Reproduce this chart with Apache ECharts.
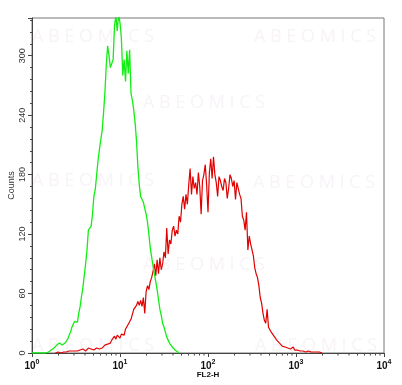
<!DOCTYPE html>
<html>
<head>
<meta charset="utf-8">
<script src="https://cdn.jsdelivr.net/npm/echarts@6/dist/echarts.min.js"></script>
<style>
  html, body { margin: 0; padding: 0; background: #fff; }
  #main { width: 402px; height: 385px; }
</style>
</head>
<body>
<div id="main"></div>
<script>
// histogram bins: 1024 channels over 4 log decades, 4 channels per bin
var binWidth = 4;
var channelsPerDecade = 256;
var xTickLabels = ['0', '1', '2', '3', '4'];   // exponents of 10
var yTicks = [0, 60, 120, 180, 240, 300];

// green (control) counts, from channel 0
var greenStart = 0;
var greenCounts = [
  0, 0, 0, 0, 0, 0, 0, 0, 0, 1, 0, 1, 1, 2, 3, 2, 5, 6, 8, 7,
  10, 9, 8, 9, 10, 12, 14, 18, 21, 26, 28, 32, 30, 31, 40, 47, 57, 66, 78, 90,
  104, 124, 125, 128, 140, 158, 165, 167, 194, 205, 215, 224, 242, 262, 290, 310, 300, 288, 292, 296,
  330, 340, 325, 342, 333, 318, 280, 296, 274, 305, 282, 306, 262, 255, 245, 232, 214, 188, 170, 158,
  156, 152, 146, 140, 132, 120, 106, 97, 88, 80, 72, 64, 54, 44, 38, 30, 26, 21, 16, 13,
  10, 8, 6, 4, 3, 2, 1, 0
];

// red (stained) counts, from channel 68
var redStart = 68;
var redCounts = [
  0, 0, 1, 1, 0, 1, 1, 0, 1, 1, 2, 1, 2, 3, 2, 1, 2, 3, 3, 2,
  4, 3, 2, 4, 5, 6, 4, 5, 3, 4, 5, 3, 4, 3, 5, 6, 8, 6, 9, 7,
  10, 13, 11, 17, 14, 18, 16, 15, 19, 20, 18, 24, 22, 29, 27, 34, 39, 44, 42, 48,
  52, 48, 53, 47, 56, 40, 62, 68, 64, 72, 76, 82, 90, 78, 94, 80, 96, 84, 90, 102,
  96, 126, 100, 114, 110, 124, 128, 118, 124, 120, 138, 132, 150, 158, 145, 160, 150, 170, 186, 160,
  178, 166, 172, 160, 182, 168, 140, 174, 180, 190, 170, 142, 182, 196, 176, 198, 180, 172, 158, 178,
  174, 168, 164, 176, 172, 156, 166, 180, 176, 168, 174, 155, 172, 170, 160, 156, 138, 134, 124, 142,
  104, 118, 110, 104, 98, 86, 80, 76, 68, 56, 50, 40, 33, 30, 44, 26, 24, 21, 20, 17,
  16, 13, 11, 10, 8, 7, 8, 6, 5, 5, 6, 4, 5, 6, 3, 4, 3, 2, 2, 1,
  2, 1, 1, 1, 2, 1, 1, 1, 1, 1, 1, 0, 1, 0, 0
];

function toPairs(start, counts) {
  return counts.map(function (c, i) { return [start + i * binWidth, c]; });
}

// minor ticks at 2..9 within each decade
var minorTicks = [];
for (var d = 0; d < 4; d++) {
  for (var k = 2; k <= 9; k++) {
    minorTicks.push([d * channelsPerDecade + channelsPerDecade * Math.log10(k), 0]);
  }
}

var wmColor = 'rgba(200,170,200,0.14)';
var wmPos = [[93, 37], [315, 37], [204, 103], [93, 181], [314, 183], [204, 265], [93, 346], [316, 346]];

var myChart = echarts.init(document.getElementById('main'));

var option = {
  animation: false,
  backgroundColor: '#fff',
  textStyle: { fontFamily: 'Liberation Sans, Arial, sans-serif' },
  graphic: wmPos.map(function (p) {
    return {
      type: 'text', x: p[0], y: p[1], z: 100, silent: true,
      style: {
        text: 'A B E O M I C S', fill: wmColor, font: '18px "Open Sans", sans-serif',
        align: 'center', verticalAlign: 'middle'
      }
    };
  }),
  grid: {
    left: 32, right: 18, top: 18, bottom: 32,
    outerBoundsMode: 'none', containLabel: false,
    show: true, borderColor: '#777', borderWidth: 1
  },
  xAxis: {
    type: 'value',
    min: 0, max: 1024, interval: channelsPerDecade,
    name: 'FL2-H', nameLocation: 'middle', nameGap: 18, nameMoveOverlap: false,
    nameTextStyle: { fontSize: 8, fontWeight: 'bold', color: '#111' },
    axisLine: { lineStyle: { color: '#444', width: 1 } },
    axisTick: { length: 4, lineStyle: { color: '#444' } },
    splitLine: { show: false },
    axisLabel: {
      margin: 3,
      formatter: function (v) {
        return '{b|10}{s|' + xTickLabels[Math.round(v / channelsPerDecade)] + '}';
      },
      rich: {
        b: { fontSize: 10, fontWeight: 'bold', color: '#111', padding: [5, 0, 0, 0] },
        s: { fontSize: 7, fontWeight: 'bold', color: '#111', padding: [0, 0, 3, 0] }
      }
    }
  },
  yAxis: {
    type: 'value',
    min: 0, max: 338, interval: 60,
    name: 'Counts', nameLocation: 'middle', nameGap: 16, nameRotate: 90, nameMoveOverlap: false,
    nameTextStyle: { fontSize: 9, color: '#333' },
    axisLine: { show: true, lineStyle: { color: '#444', width: 1 } },
    axisTick: { show: true, length: 4, lineStyle: { color: '#444' } },
    minorTick: { show: true, splitNumber: 5, length: 2, lineStyle: { color: '#444' } },
    splitLine: { show: false },
    axisLabel: {
      rotate: 90, fontSize: 9, color: '#333', margin: 5,
      formatter: function (v) { return yTicks.indexOf(v) >= 0 ? String(v) : ''; }
    }
  },
  series: [
    {
      name: 'control', type: 'line', data: toPairs(greenStart, greenCounts),
      symbol: 'none', lineStyle: { color: '#11ee11', width: 1.3 }, z: 3
    },
    {
      name: 'stained', type: 'line', data: toPairs(redStart, redCounts),
      symbol: 'none', lineStyle: { color: '#e00000', width: 1.2 }, z: 2
    },
    {
      name: 'minor', type: 'custom', data: minorTicks, clip: false, silent: true,
      renderItem: function (params, api) {
        var p = api.coord([api.value(0), 0]);
        return {
          type: 'line',
          shape: { x1: p[0], y1: p[1], x2: p[0], y2: p[1] + 2.5 },
          style: { stroke: '#444', lineWidth: 1 }
        };
      }
    }
  ]
};
myChart.setOption(option);
</script>
</body>
</html>
